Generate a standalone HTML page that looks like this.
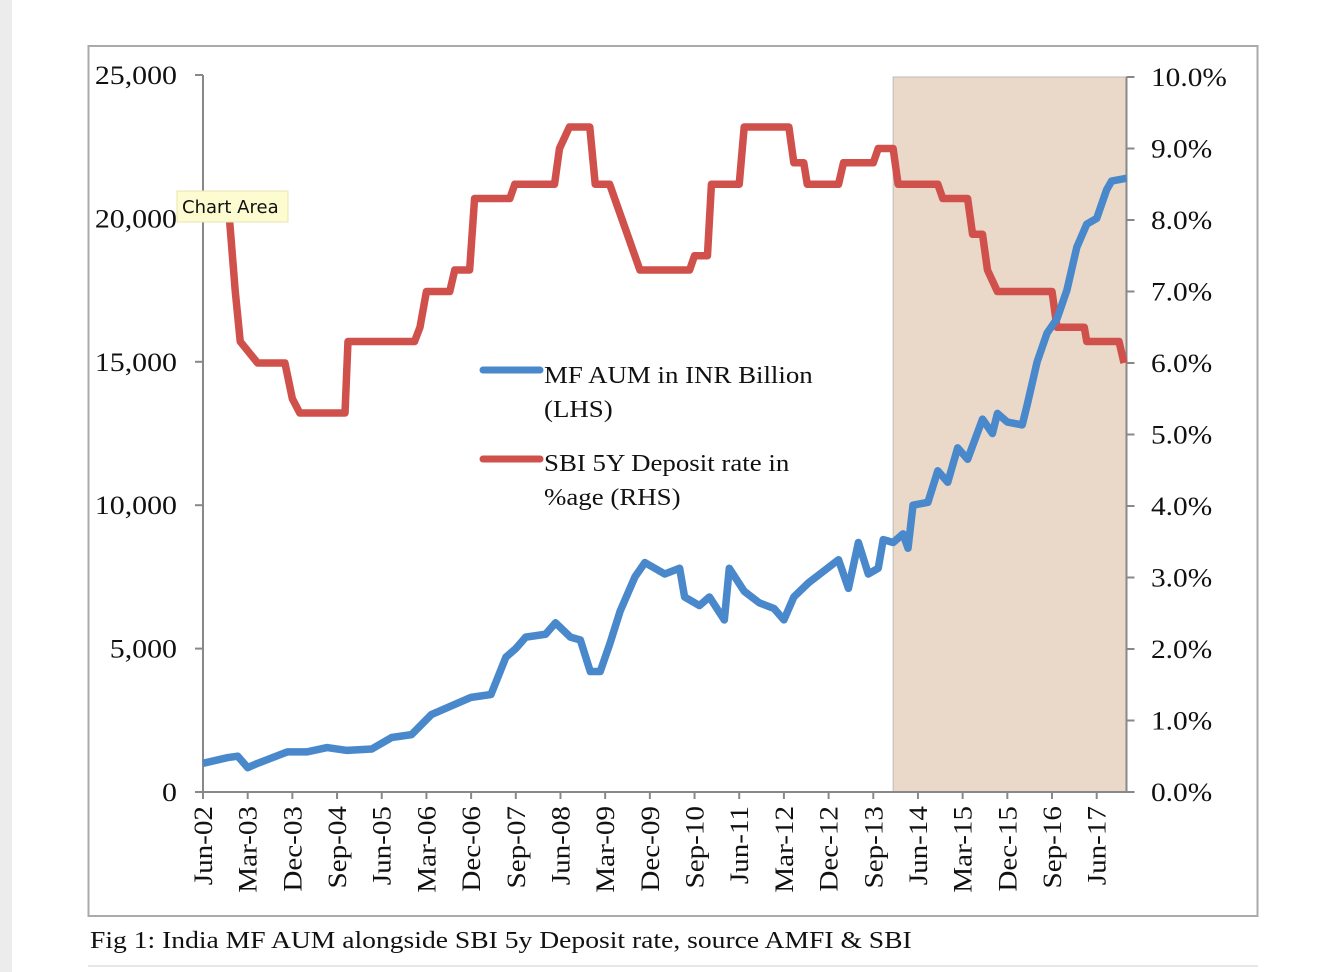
<!DOCTYPE html>
<html><head><meta charset="utf-8"><style>
html,body{margin:0;padding:0;background:#fff;width:1337px;height:972px;overflow:hidden}
svg{display:block}
text{font-family:"Liberation Serif",serif;fill:#111}
</style></head><body>
<svg id="chart" width="1337" height="972">
<rect x="0" y="0" width="12" height="972" fill="#ececec"/>
<rect x="88.5" y="46" width="1169" height="870" fill="#fff" stroke="#aaa" stroke-width="2"/>
<g id="plot"></g>
<text transform="translate(90,948) scale(1.15,1)" font-size="24">Fig 1: India MF AUM alongside SBI 5y Deposit rate, source AMFI &amp; SBI</text>
<line x1="88" y1="966" x2="1258" y2="966" stroke="#e6e6e6" stroke-width="2"/>
</svg>
<script>
// data (month index from Jun-02)
const aumMonths=[0,5,7,9,11,17,21,25,29,34,38,42,46,50,54,58,61,63,65,69,71,74,76,78,80,82,84,87,89,93,96,97,100,102,105,106,109,112,115,117,119,122,125,128,130,132,134,136,137,139,141,142,143,146,148,150,152,154,157,159,160,162,165,166,168,170,172,174,176,178,180,182,183,186];
const aumValues=[1000,1200,1250,850,1000,1400,1400,1550,1450,1500,1900,2000,2700,3000,3300,3400,4700,5000,5400,5500,5900,5400,5300,4200,4200,5200,6300,7500,8000,7600,7800,6800,6500,6800,6000,7800,7000,6600,6400,6000,6800,7300,7700,8100,7100,8700,7600,7800,8800,8700,9000,8500,10000,10100,11200,10800,12000,11600,13000,12500,13200,12900,12800,13500,15000,16000,16500,17500,19000,19800,20000,21000,21300,21400];
const rateMonths=[5,6.5,7.5,11,16.5,18,19.5,28.6,29.2,42.6,43.7,45,49.7,50.7,53.7,54.7,61.8,62.8,70.8,71.8,73.8,77.9,79,81.9,88,98,99,101.6,102.4,108,109,118,119,121,121.7,128,129,135,136,139,140,148,149,154,155,157,158,160,171,172,177.5,178,184.5,185.5];
const rateValues=[8.3,7.0,6.3,6.0,6.0,5.5,5.3,5.3,6.3,6.3,6.5,7.0,7.0,7.3,7.3,8.3,8.3,8.5,8.5,9.0,9.3,9.3,8.5,8.5,7.3,7.3,7.5,7.5,8.5,8.5,9.3,9.3,8.8,8.8,8.5,8.5,8.8,8.8,9.0,9.0,8.5,8.5,8.3,8.3,7.8,7.8,7.3,7.0,7.0,6.5,6.5,6.3,6.3,6.0];
const leftTicks=[0,5000,10000,15000,20000,25000];
const leftTickLabels=["0","5,000","10,000","15,000","20,000","25,000"];
const rightTicks=[0,1,2,3,4,5,6,7,8,9,10];
const xTickLabels=["Jun-02","Mar-03","Dec-03","Sep-04","Jun-05","Mar-06","Dec-06","Sep-07","Jun-08","Mar-09","Dec-09","Sep-10","Jun-11","Mar-12","Dec-12","Sep-13","Jun-14","Mar-15","Dec-15","Sep-16","Jun-17"];
const shadeStart=139, shadeEnd=186;

const X0=203, PXM=4.965;
const xS=m=>X0+m*PXM;
const yL=v=>792-v*(792-75)/25000;
const yR=v=>792-v*71.5;
const NS='http://www.w3.org/2000/svg';
const g=document.getElementById('plot');
function mk(t,a){const e=document.createElementNS(NS,t);for(const k in a)e.setAttribute(k,a[k]);g.appendChild(e);return e;}

let e=mk('rect',{x:xS(shadeStart),y:yR(10),width:xS(shadeEnd)-xS(shadeStart),height:yR(0)-yR(10),fill:'#ead9c9',stroke:'#bbb','stroke-width':1});



e=mk('line',{x1:X0,y1:yL(25000),x2:X0,y2:792,stroke:'#888','stroke-width':2});


leftTicks.forEach((v,i)=>{
  const t=mk('line',{x1:195,x2:X0,y1:yL(v),y2:yL(v),stroke:'#888','stroke-width':2});
  
  
  const l=mk('text',{'font-size':26,'text-anchor':'end',transform:`translate(177,${yL(v)+9}) scale(1.15,1)`});
  l.textContent=leftTickLabels[i];
  
  
});
const RX=xS(shadeEnd);
e=mk('line',{x1:RX,y1:yR(10),x2:RX,y2:792,stroke:'#888','stroke-width':2});


rightTicks.forEach(v=>{
  const t=mk('line',{x1:RX,x2:RX+8,y1:yR(v),y2:yR(v),stroke:'#888','stroke-width':2});
  
  
  const l=mk('text',{'font-size':26,transform:`translate(1151,${yR(v)+9}) scale(1.13,1)`});
  l.textContent=v.toFixed(1)+'%';
  
  
});
e=mk('line',{x1:195,y1:792,x2:RX+8,y2:792,stroke:'#888','stroke-width':2});


xTickLabels.forEach((s,i)=>{
  const x=xS(i*9);
  const t=mk('line',{x1:x,x2:x,y1:792,y2:799,stroke:'#888','stroke-width':2});
  
  
  const l=mk('text',{x:0,y:0,'font-size':26,'text-anchor':'end',transform:`translate(${x+9},806) rotate(-90) scale(1.12,1)`});
  l.textContent=s;
  
  
});

e=mk('polyline',{points:rateMonths.map((m,i)=>xS(m)+','+yR(rateValues[i])).join(' '),fill:'none',stroke:'#d0504c','stroke-width':7.5,'stroke-linejoin':'round'});


e=mk('polyline',{points:aumMonths.map((m,i)=>xS(m)+','+yL(aumValues[i])).join(' '),fill:'none',stroke:'#4a88cc','stroke-width':7.5,'stroke-linejoin':'round'});



// legend
e=mk('line',{x1:483,y1:370,x2:540,y2:370,stroke:'#4a88cc','stroke-width':7,'stroke-linecap':'round'});


e=mk('text',{'font-size':24,transform:'translate(544,383) scale(1.12,1)'});
e.textContent='MF AUM in INR Billion';


e=mk('text',{'font-size':24,transform:'translate(544,417) scale(1.12,1)'});
e.textContent='(LHS)';


e=mk('line',{x1:483,y1:459,x2:540,y2:459,stroke:'#d0504c','stroke-width':7,'stroke-linecap':'round'});


e=mk('text',{'font-size':24,transform:'translate(544,471) scale(1.12,1)'});
e.textContent='SBI 5Y Deposit rate in';


e=mk('text',{'font-size':24,transform:'translate(544,505) scale(1.12,1)'});
e.textContent='%age (RHS)';



// tooltip
e=mk('rect',{x:177,y:191,width:111,height:31,fill:'#fdfbd0',stroke:'#e8e4b0','stroke-width':1});


e=mk('text',{x:182,y:213,'font-size':18,style:'font-family:"DejaVu Sans",sans-serif'});
e.textContent='Chart Area';


</script>
</body></html>
